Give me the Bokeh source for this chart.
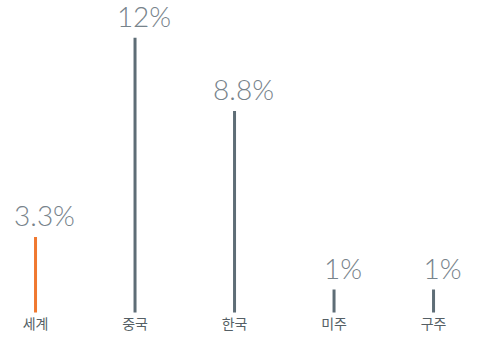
from bokeh.plotting import figure
from bokeh.models import ColumnDataSource, Range1d
from bokeh.core.properties import value
from bokeh.embed import file_html
from bokeh.resources import INLINE

categories = ["세계", "중국", "한국", "미주", "구주"]
values = [3.3, 12, 8.8, 1, 1]
labels = ["3.3%", "12%", "8.8%", "1%", "1%"]
colors = ["#f0782f", "#5e6d76", "#5e6d76", "#5e6d76", "#5e6d76"]

xs = list(range(len(categories)))
src = ColumnDataSource(dict(x=xs, y0=[0] * len(xs), v=values, lab=labels, cat=categories, c=colors))

p = figure(width=461, height=334, output_backend="svg", toolbar_location=None,
           x_range=Range1d(-0.352, 4.281), y_range=Range1d(-0.961, 13.624),
           min_border=0, outline_line_color=None, background_fill_color="white")
p.axis.visible = False
p.grid.visible = False

p.segment(x0="x", y0="y0", x1="x", y1="v", source=src, line_color="c", line_width=3, line_cap="butt")
p.text(x="x", y="v", text="lab", source=src, text_align="center", text_baseline="bottom",
       x_offset=9, y_offset=-5, text_font=value("Lato Light"), text_font_size="28px",
       text_color="#77838b")
p.text(x="x", y="y0", text="cat", source=src, text_align="center", text_baseline="middle",
       y_offset=11, text_font=value("Noto Sans CJK KR"), text_font_size="14px",
       text_color="#555f65")

open("out.html", "w").write(file_html(p, INLINE))
